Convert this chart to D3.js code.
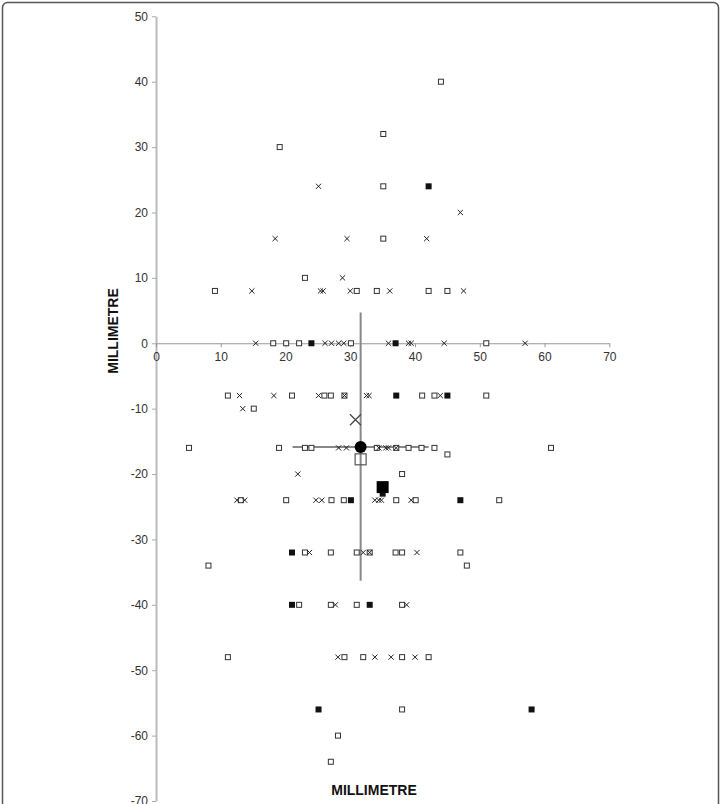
<!DOCTYPE html>
<html>
<head>
<meta charset="utf-8">
<script src="https://cdn.jsdelivr.net/npm/d3@7"></script>
<style>
  html, body { margin: 0; padding: 0; background: #fff; }
  svg { display: block; }
</style>
</head>
<body>
<div id="chart"></div>
<script>
// Data (millimetre coordinates)
const xTicks = [0, 10, 20, 30, 40, 50, 60, 70];
const yTicks = [50, 40, 30, 20, 10, 0, -10, -20, -30, -40, -50, -60, -70];

const openSquares = [
  [44, 40], [35.1, 32], [19.1, 30], [35.1, 24], [35.1, 16], [23, 10],
  [9.1, 8], [31, 8], [34.1, 8], [42.1, 8], [45, 8],
  [18.1, 0], [20.1, 0], [22.1, 0], [30.1, 0], [51, 0],
  [11.1, -8], [21, -8], [26, -8], [27, -8], [29.1, -8], [41.1, -8], [43, -8], [51, -8],
  [15.1, -10],
  [5.1, -16], [19, -16], [23, -16], [24, -16], [34.1, -16], [37.1, -16], [39, -16], [41, -16], [43, -16], [61, -16],
  [45, -17], [38, -20],
  [13.1, -24], [20.1, -24], [27.1, -24], [29, -24], [37.1, -24], [40.1, -24], [53, -24],
  [23, -32], [27, -32], [31, -32], [33, -32], [37, -32], [38, -32], [47, -32],
  [8.1, -34], [48, -34],
  [22.1, -40], [27, -40], [31, -40], [38, -40],
  [11.1, -48], [29.1, -48], [32, -48], [38, -48], [42.1, -48],
  [38, -56], [28.1, -60], [27, -64]
];

const crosses = [
  [25.1, 24], [47, 20], [18.4, 16], [29.5, 16], [41.8, 16], [28.8, 10],
  [14.8, 8], [25.4, 8], [25.8, 8], [30, 8], [36.1, 8], [47.5, 8],
  [15.4, 0], [26.1, 0], [27.1, 0], [28.2, 0], [29, 0], [35.9, 0], [39, 0], [39.4, 0], [44.5, 0], [57, 0],
  [12.9, -8], [18.2, -8], [25.1, -8], [29.1, -8], [32.5, -8], [32.9, -8], [43.9, -8],
  [13.4, -10],
  [28.2, -16], [29.4, -16], [34.4, -16], [35.5, -16], [35.9, -16], [37.1, -16],
  [21.9, -20],
  [12.5, -24], [13.7, -24], [24.7, -24], [25.6, -24], [33.8, -24], [34.4, -24], [34.8, -24], [39.4, -24],
  [23.7, -32], [32, -32], [33, -32], [40.3, -32],
  [27.7, -40], [38.7, -40],
  [28.1, -48], [33.8, -48], [36.3, -48], [40, -48]
];

const filledSquares = [
  [42.1, 24], [24, 0], [37, 0], [37.1, -8], [45, -8], [35, -23], [30.1, -24], [47, -24],
  [21, -32], [21, -40], [33, -40], [25.1, -56], [58, -56]
];

// group means
const meanCross = [30.8, -11.7];
const meanCircle = [31.6, -15.85];
const meanOpenSquare = [31.6, -17.75];
const meanFilledSquare = [35, -22];
// spread bars around the overall mean: [x1, y1, x2, y2]
const spreadBars = [
  [21.1, -15.85, 42.1, -15.85],
  [31.6, 4.7, 31.6, -36.3]
];

const width = 720, height = 804;

const svg = d3.select('#chart').append('svg')
  .attr('width', width)
  .attr('height', height)
  .style('font-family', 'Liberation Sans, Arial, sans-serif');

// Outer frame
svg.append('rect')
  .attr('x', 2.5).attr('y', 2.5)
  .attr('width', 716).attr('height', 820)
  .attr('rx', 5)
  .attr('fill', 'none')
  .attr('stroke', '#555')
  .attr('stroke-width', 1.5);

const x = d3.scaleLinear().domain([0, 70]).range([156, 609.3]);
const y = d3.scaleLinear().domain([-70, 50]).range([801, 16.3]);

// Y axis (at x = 0)
const yAxis = svg.append('g')
  .attr('transform', `translate(${x(0)},0)`)
  .call(d3.axisLeft(y).tickValues(yTicks).tickSize(4).tickSizeOuter(0).tickFormat(d3.format('d')));
yAxis.select('.domain').attr('stroke', '#bbb').attr('stroke-width', 2);
yAxis.selectAll('.tick line').attr('stroke', '#aaa');
yAxis.selectAll('.tick text')
  .attr('x', -8)
  .attr('fill', '#333')
  .style('font-size', '12px')
  .text(d => d === 0 ? '0' : d3.format('d')(d).replace('−', '-'));

// X axis (at y = 0)
const xAxis = svg.append('g')
  .attr('transform', `translate(0,${y(0)})`)
  .call(d3.axisBottom(x).tickValues(xTicks).tickSize(4).tickSizeOuter(0));
xAxis.select('.domain').attr('stroke', '#999').attr('stroke-width', 1);
xAxis.selectAll('.tick line').attr('stroke', '#999');
xAxis.selectAll('.tick text')
  .attr('y', 9)
  .attr('fill', '#333')
  .style('font-size', '12px');

// Axis titles
svg.append('text')
  .attr('x', 374).attr('y', 795)
  .attr('text-anchor', 'middle')
  .attr('font-weight', 'bold')
  .attr('font-size', '14px')
  .attr('fill', '#111')
  .text('MILLIMETRE');

svg.append('text')
  .attr('transform', `translate(118,331) rotate(-90)`)
  .attr('text-anchor', 'middle')
  .attr('font-weight', 'bold')
  .attr('font-size', '14px')
  .attr('fill', '#111')
  .text('MILLIMETRE');

// Spread bars
svg.append('g').selectAll('line')
  .data(spreadBars)
  .join('line')
  .attr('x1', d => x(d[0])).attr('y1', d => y(d[1]))
  .attr('x2', d => x(d[2])).attr('y2', d => y(d[3]))
  .attr('stroke', '#888')
  .attr('stroke-width', 2);

const crossPath = s => `M${-s},${-s}L${s},${s}M${-s},${s}L${s},${-s}`;

// Open squares
svg.append('g').selectAll('rect')
  .data(openSquares)
  .join('rect')
  .attr('x', d => x(d[0]) - 2.5)
  .attr('y', d => y(d[1]) - 2.5)
  .attr('width', 5).attr('height', 5)
  .attr('fill', '#fff')
  .attr('stroke', '#333')
  .attr('stroke-width', 1);

// Crosses
svg.append('g').selectAll('path')
  .data(crosses)
  .join('path')
  .attr('transform', d => `translate(${x(d[0])},${y(d[1])})`)
  .attr('d', crossPath(2.6))
  .attr('stroke', '#222')
  .attr('stroke-width', 1)
  .attr('fill', 'none');

// Filled squares
svg.append('g').selectAll('rect')
  .data(filledSquares)
  .join('rect')
  .attr('x', d => x(d[0]) - 3)
  .attr('y', d => y(d[1]) - 3)
  .attr('width', 6).attr('height', 6)
  .attr('fill', '#111');

// Means
svg.append('path')
  .datum(meanCross)
  .attr('transform', d => `translate(${x(d[0])},${y(d[1])})`)
  .attr('d', crossPath(5.5))
  .attr('stroke', '#444')
  .attr('stroke-width', 1.2)
  .attr('fill', 'none');

svg.append('rect')
  .datum(meanOpenSquare)
  .attr('x', d => x(d[0]) - 5.5)
  .attr('y', d => y(d[1]) - 5.5)
  .attr('width', 11).attr('height', 11)
  .attr('fill', 'none')
  .attr('stroke', '#555')
  .attr('stroke-width', 1.2);

svg.append('circle')
  .datum(meanCircle)
  .attr('cx', d => x(d[0]))
  .attr('cy', d => y(d[1]))
  .attr('r', 6)
  .attr('fill', '#000');

svg.append('rect')
  .datum(meanFilledSquare)
  .attr('x', d => x(d[0]) - 6)
  .attr('y', d => y(d[1]) - 6)
  .attr('width', 12).attr('height', 12)
  .attr('fill', '#000');
</script>
</body>
</html>
